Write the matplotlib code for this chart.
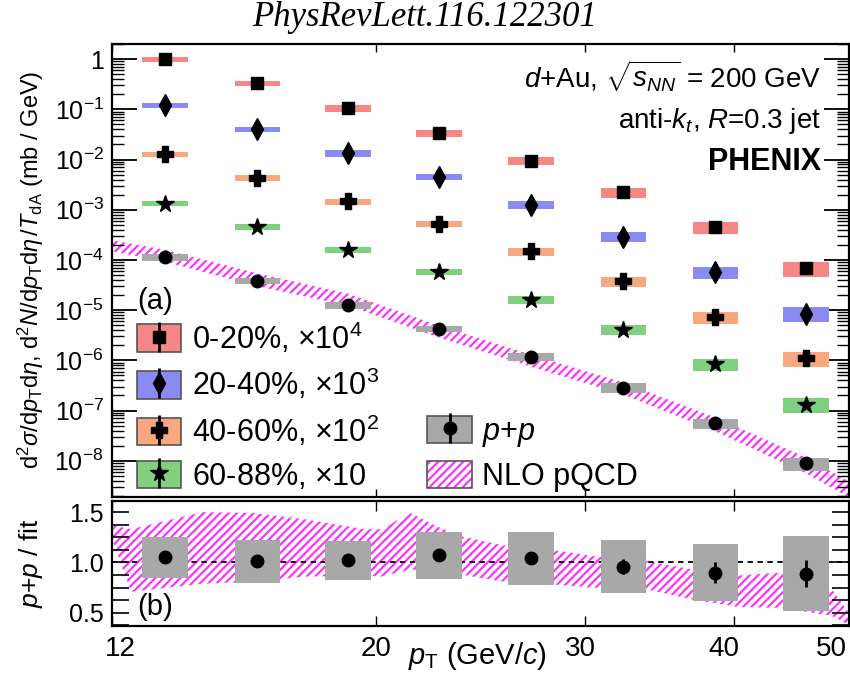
import numpy as np
import matplotlib
matplotlib.use("Agg")
import matplotlib.pyplot as plt
from matplotlib.lines import Line2D
from matplotlib.patches import Patch
from matplotlib.legend_handler import HandlerTuple
from matplotlib.transforms import ScaledTranslation
from matplotlib.ticker import (FuncFormatter, FixedLocator, LogLocator, MultipleLocator,
                               NullLocator, NullFormatter, FormatStrFormatter)

plt.rcParams["font.family"] = "Liberation Sans"
plt.rcParams["mathtext.fontset"] = "custom"
plt.rcParams["mathtext.rm"] = "Liberation Sans"
plt.rcParams["mathtext.it"] = "Liberation Sans:italic"
plt.rcParams["mathtext.bf"] = "Liberation Sans:bold"
plt.rcParams["hatch.linewidth"] = 1.6

# jet pT bin centres (GeV/c)
pt = [13.3, 15.9, 18.95, 22.6, 27.0, 32.3, 38.6, 46.0]

# d+Au yields d2N/dpT deta / T_dA per centrality class (mb/GeV), unscaled
dau_0_20 = [9.9e-5, 3.29e-5, 1.05e-5, 3.33e-6, 9.4e-7, 2.24e-7, 4.43e-8, 6.9e-9]
dau_20_40 = [1.20e-4, 4.0e-5, 1.33e-5, 4.5e-6, 1.26e-6, 2.93e-7, 5.74e-8, 8.5e-9]
dau_40_60 = [1.27e-4, 4.37e-5, 1.46e-5, 5.2e-6, 1.48e-6, 3.74e-7, 7.3e-8, 1.12e-8]
dau_60_88 = [1.33e-4, 4.51e-5, 1.60e-5, 5.8e-6, 1.62e-6, 4.1e-7, 8.3e-8, 1.32e-8]
scales = [1e4, 1e3, 1e2, 10]
cent_labels = ["0-20%", "20-40%", "40-60%", "60-88%"]
scale_labels = [r"$\times10^4$", r"$\times10^3$", r"$\times10^2$", r"$\times10$"]
dau_sys = [0.12, 0.13, 0.14, 0.14, 0.18, 0.22, 0.26, 0.33]

# p+p cross section d2sigma/dpT deta (mb/GeV)
pp = [1.14e-4, 3.86e-5, 1.245e-5, 4.23e-6, 1.17e-6, 2.84e-7, 5.55e-8, 8.9e-9]
pp_sys = [0.16, 0.15, 0.15, 0.15, 0.18, 0.22, 0.22, 0.30]

# p+p / fit
ratio = [1.05, 1.01, 1.02, 1.07, 1.04, 0.96, 0.90, 0.89]
ratio_stat = [0.01, 0.01, 0.01, 0.015, 0.025, 0.07, 0.10, 0.13]
ratio_sys = [0.20, 0.21, 0.195, 0.23, 0.26, 0.26, 0.28, 0.37]

# NLO pQCD band, cross section
nlo_pt = [12.0, 13.3, 15.9, 18.95, 22.6, 27.0, 32.3, 38.6, 46.0, 50.0]
nlo_lo = [1.49e-4, 9.2e-5, 3.0e-5, 1.23e-5, 2.84e-6, 7.5e-7, 2.09e-7, 3.85e-8, 5.6e-9, 1.87e-9]
nlo_hi = [2.46e-4, 1.59e-4, 5.43e-5, 2.13e-5, 4.92e-6, 1.30e-6, 3.62e-7, 7.3e-8, 1.17e-8, 3.9e-9]

# NLO pQCD band, divided by the p+p fit
nlo_r_pt = [12.0, 12.45, 14.3, 15.8, 17.4, 19.6, 20.2, 21.4, 22.5, 23.6,
            25.6, 28.3, 30.6, 33.9, 37.0, 40.3, 43.8, 48.4, 50.0]
nlo_r_lo = [1.23, 0.71, 0.79, 0.81, 0.86, 0.87, 0.86, 0.93, 0.92, 0.88,
            0.81, 0.78, 0.75, 0.73, 0.63, 0.56, 0.55, 0.47, 0.38]
nlo_r_hi = [1.37, 1.33, 1.50, 1.49, 1.43, 1.33, 1.33, 1.49, 1.36, 1.26,
            1.17, 1.12, 1.06, 1.01, 0.93, 0.87, 0.90, 0.73, 0.50]

x_ticks = [12, 20, 30, 40, 50]
y_decades = [1e-8, 1e-7, 1e-6, 1e-5, 1e-4, 1e-3, 1e-2, 1e-1, 1.0]

box_colors = ["#f78686", "#8a8af2", "#f8a77e", "#80d080"]
markers = ["s", "d", "P", "*"]
msizes = [9, 11, 11, 13]
pp_color = "#a8a8a8"
nlo_color = "#ff33ff"
half_w = 1.045  # box half width, multiplicative in pT

fig = plt.figure(figsize=(8.5, 6.77), dpi=100)
W, H = 850.0, 677.0
ax = fig.add_axes([112 / W, 1 - 497 / H, 737 / W, 453 / H])
axr = fig.add_axes([112 / W, 1 - 626 / H, 737 / W, 125 / H])

pt_a = np.array(pt)
left = pt_a / half_w
width = pt_a * half_w - left

# ---- upper panel ----
ax.fill_between(nlo_pt, nlo_lo, nlo_hi, facecolor="none", edgecolor=nlo_color,
                hatch="////", linewidth=0, zorder=1)

for vals, sc, col, mk, ms in zip([dau_0_20, dau_20_40, dau_40_60, dau_60_88],
                                 scales, box_colors, markers, msizes):
    y = np.array(vals) * sc
    s = np.array(dau_sys)
    ax.bar(left, y * 2 * s, width=width, bottom=y * (1 - s), align="edge",
           color=col, linewidth=0, zorder=2)
    ax.plot(pt, y, ls="none", marker=mk, ms=ms, color="k", zorder=4)

y = np.array(pp)
s = np.array(pp_sys)
ax.bar(left, y * 2 * s, width=width, bottom=y * (1 - s), align="edge",
       color=pp_color, linewidth=0, zorder=2)
ax.plot(pt, pp, ls="none", marker="o", ms=9, color="k", zorder=4)

ax.set_xscale("log")
ax.set_yscale("log")
ax.set_xlim(12, 50)
ax.set_ylim(1.9e-9, 2.0)
ax.yaxis.set_major_locator(FixedLocator(y_decades))
ax.yaxis.set_minor_locator(LogLocator(base=10, subs=np.arange(2, 10), numticks=20))
ax.yaxis.set_minor_formatter(NullFormatter())
ax.yaxis.set_major_formatter(FuncFormatter(
    lambda v, _: "1" if abs(v - 1) < 1e-9 else r"$10^{%d}$" % round(np.log10(v))))
ax.set_xticks(x_ticks)
ax.xaxis.set_minor_locator(NullLocator())
ax.tick_params(axis="y", which="major", direction="in", length=18, width=1.3,
               labelsize=18, pad=6, right=True)
ax.tick_params(axis="y", which="minor", direction="in", length=8.5, width=1.0, right=True)
ax.tick_params(axis="x", which="major", direction="in", length=6, width=1.0, top=True,
               labelbottom=False)

ax.text(0.962, 0.905, r"$d$+Au, $\sqrt{s_{NN}}$ = 200 GeV", transform=ax.transAxes,
        ha="right", va="baseline", fontsize=20)
ax.text(0.962, 0.815, r"anti-$k_t$, $R$=0.3 jet", transform=ax.transAxes,
        ha="right", va="baseline", fontsize=20)
ax.text(0.962, 0.722, "PHENIX", transform=ax.transAxes, ha="right", va="baseline",
        fontsize=22, fontweight="bold")
ax.text(0.034, 0.415, "(a)", transform=ax.transAxes, ha="left", va="baseline", fontsize=21)

# legends: filled box with a vertical bar and the marker drawn on top
overlay = {tuple: HandlerTuple(ndivide=1, pad=0)}
leg_kw = dict(frameon=False, borderpad=0, borderaxespad=0, fontsize=22,
              handlelength=1.45, handleheight=1.0, handletextpad=0.35,
              labelspacing=0.375, handler_map=overlay, loc="upper left")


def box_handle(col, mk, ms):
    return (Patch(facecolor=col, edgecolor="#555555", linewidth=1.2),
            Line2D([], [], ls="none", marker="|", ms=21, mew=2, color="k"),
            Line2D([], [], ls="none", marker=mk, ms=ms, color="k"))


cent_handles = [box_handle(c, m, ms) for c, m, ms in zip(box_colors, markers, msizes)]
cent_text = [f"{c}, {s}" for c, s in zip(cent_labels, scale_labels)]
leg1 = ax.legend(cent_handles, cent_text, bbox_to_anchor=(0.034, 0.39), **leg_kw)
ax.add_artist(leg1)

nlo_handle = (Patch(facecolor="none", edgecolor=nlo_color, hatch="////", linewidth=0),
              Patch(facecolor="none", edgecolor="#555555", linewidth=1.2))
ax.legend([box_handle(pp_color, "o", 9), nlo_handle], [r"$p$+$p$", "NLO pQCD"],
          bbox_to_anchor=(0.428, 0.179), **leg_kw)

# ---- ratio panel ----
axr.fill_between(nlo_r_pt, nlo_r_lo, nlo_r_hi, facecolor="none", edgecolor=nlo_color,
                 hatch="////", linewidth=0, zorder=1)
axr.axhline(1.0, color="k", ls=(0, (3, 2.5)), lw=1.3, zorder=2)
r = np.array(ratio)
rs = np.array(ratio_sys)
axr.bar(left, 2 * rs, width=width, bottom=r - rs, align="edge", color=pp_color,
        linewidth=0, zorder=3)
axr.errorbar(pt, ratio, yerr=ratio_stat, fmt="o", ms=9, color="k", elinewidth=2,
             capsize=0, zorder=4)

axr.set_xscale("log")
axr.set_xlim(12, 50)
axr.set_ylim(0.37, 1.61)
axr.yaxis.set_major_locator(FixedLocator([0.5, 1.0, 1.5]))
axr.yaxis.set_minor_locator(MultipleLocator(0.125))
axr.yaxis.set_minor_formatter(NullFormatter())
axr.yaxis.set_major_formatter(FormatStrFormatter("%.1f"))
axr.set_xticks(x_ticks)
axr.set_xticklabels([str(t) for t in x_ticks])
axr.xaxis.set_minor_locator(NullLocator())
axr.tick_params(axis="y", which="both", direction="in", length=12, width=1.2,
                labelsize=18, pad=6, right=True)
axr.tick_params(axis="x", which="major", direction="in", length=7, width=1.0,
                top=True, labelsize=20, pad=7)
axr.text(0.034, 0.088, "(b)", transform=axr.transAxes, ha="left", va="baseline",
         fontsize=21)

# nudge the end labels inside the figure
shifts = {"12": 8, "30": -5, "40": -10, "50": -18}
for lab in axr.get_xticklabels():
    dx = shifts.get(lab.get_text(), 0)
    if dx:
        lab.set_transform(lab.get_transform() +
                          ScaledTranslation(dx / 100, 0, fig.dpi_scale_trans))

for a in (ax, axr):
    for sp in a.spines.values():
        sp.set_linewidth(1.6)

fig.text(408 / W, 1 - 664 / H, r"$p_\mathrm{T}$ (GeV/$c$)", ha="left", va="baseline",
         fontsize=21)
fig.text(0.036, 1 - 270 / H,
         r"$\mathrm{d}^2\sigma/\mathrm{d}p_\mathrm{T}\mathrm{d}\eta$, "
         r"$\mathrm{d}^2N/\mathrm{d}p_\mathrm{T}\mathrm{d}\eta\,/T_\mathrm{dA}$ (mb / GeV)",
         rotation=90, ha="center", va="center", fontsize=17)
fig.text(0.036, 1 - 563 / H, r"$p$+$p$ / fit", rotation=90, ha="center", va="center",
         fontsize=19)
fig.text(0.5, 1 - 18 / H, "PhysRevLett.116.122301", ha="center", va="center",
         fontsize=25, family="Liberation Serif", style="italic")

fig.savefig("out.png", dpi=100)
